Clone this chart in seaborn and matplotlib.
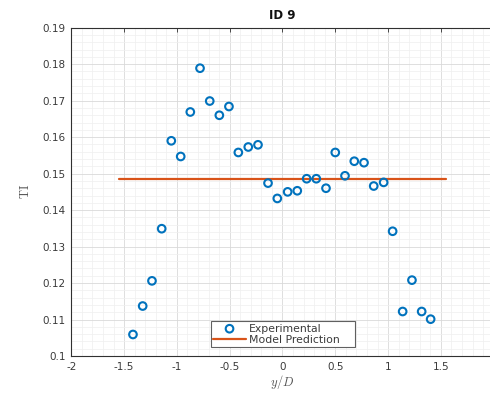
import numpy as np
import pandas as pd
import matplotlib
matplotlib.use("Agg")
import matplotlib.pyplot as plt
from matplotlib.ticker import MultipleLocator
import seaborn as sns

# Measured turbulence intensity across the wake (ID 9)
y_over_d = [-1.416, -1.324, -1.236, -1.144, -1.053, -0.964, -0.873, -0.781,
            -0.689, -0.598, -0.507, -0.418, -0.324, -0.232, -0.137, -0.049,
            0.049, 0.140, 0.229, 0.320, 0.412, 0.500, 0.592, 0.680,
            0.772, 0.864, 0.958, 1.043, 1.138, 1.226, 1.318, 1.403]
ti_exp = [0.1059, 0.1137, 0.1206, 0.1349, 0.1590, 0.1547, 0.1669, 0.1789,
          0.1699, 0.1660, 0.1684, 0.1558, 0.1573, 0.1579, 0.1474, 0.1432,
          0.1450, 0.1453, 0.1486, 0.1486, 0.1460, 0.1558, 0.1494, 0.1534,
          0.1530, 0.1466, 0.1476, 0.1342, 0.1122, 0.1208, 0.1122, 0.1101]

# Model prediction (constant across the span)
model_x = [-1.55, 1.55]
model_ti = [0.1484, 0.1484]

x_ticks = [-2, -1.5, -1, -0.5, 0, 0.5, 1, 1.5, 2]
x_tick_labels = ["-2", "-1.5", "-1", "-0.5", "0", "0.5", "1", "1.5", ""]
y_ticks = [0.1, 0.11, 0.12, 0.13, 0.14, 0.15, 0.16, 0.17, 0.18, 0.19]
y_tick_labels = ["0.1", "0.11", "0.12", "0.13", "0.14", "0.15", "0.16",
                 "0.17", "0.18", "0.19"]

sns.set_style("white")
plt.rcParams["font.family"] = ["DejaVu Sans"]
plt.rcParams["mathtext.fontset"] = "cm"

exp_df = pd.DataFrame({"y/D": y_over_d, "TI": ti_exp, "kind": "Experimental"})
mod_df = pd.DataFrame({"y/D": model_x, "TI": model_ti, "kind": "Model Prediction"})

fig = plt.figure(figsize=(4.9, 3.96), dpi=100)
ax = fig.add_axes([0.1455, 0.101, 0.862, 0.829])

blue = "#0072BD"
orange = "#D95319"
text_c = "#3a3a3a"

sns.scatterplot(data=exp_df, x="y/D", y="TI", ax=ax, marker="o",
                facecolor="none", edgecolor=blue, linewidth=1.5, s=30,
                label="Experimental", zorder=3)
sns.lineplot(data=mod_df, x="y/D", y="TI", ax=ax, color=orange,
             linewidth=1.6, label="Model Prediction", zorder=2)

ax.set_xlim(-2, 2)
ax.set_ylim(0.1, 0.19)
ax.set_xticks(x_ticks)
ax.set_xticklabels(x_tick_labels)
ax.set_yticks(y_ticks)
ax.set_yticklabels(y_tick_labels)
ax.xaxis.set_minor_locator(MultipleLocator(0.1))
ax.yaxis.set_minor_locator(MultipleLocator(0.002))

ax.grid(True, which="major", color="#d9d9d9", linewidth=0.6)
ax.grid(True, which="minor", color="#efefef", linewidth=0.5)
ax.set_axisbelow(True)

for side in ["left", "bottom", "top", "right"]:
    ax.spines[side].set_visible(True)
    ax.spines[side].set_color("#303030")
    ax.spines[side].set_linewidth(0.8)

ax.tick_params(which="major", direction="in", length=3, width=0.6,
               top=True, right=True, labelsize=7.5,
               colors="#303030", pad=4)
ax.tick_params(which="minor", length=0, top=True, right=True)
for lab in ax.get_xticklabels() + ax.get_yticklabels():
    lab.set_color(text_c)

ax.set_title("ID 9", fontsize=8.5, fontweight="bold", color="#111111", pad=6)
ax.set_xlabel(r"$y/D$", fontsize=9, color="#555555", labelpad=1)
ax.set_ylabel(r"$\mathrm{TI}$", fontsize=9, color="#555555", labelpad=8)

leg = ax.legend(loc="lower left", bbox_to_anchor=(0.331, 0.028, 0.341, 0.105),
                mode="expand", fontsize=7.8, frameon=True, fancybox=False,
                edgecolor="#606060", framealpha=1, borderpad=0.2,
                handlelength=3.0, handletextpad=0.3, labelspacing=0.1,
                borderaxespad=0)
leg.get_frame().set_linewidth(0.8)
for t in leg.get_texts():
    t.set_color(text_c)

fig.savefig("out.png", dpi=100)
